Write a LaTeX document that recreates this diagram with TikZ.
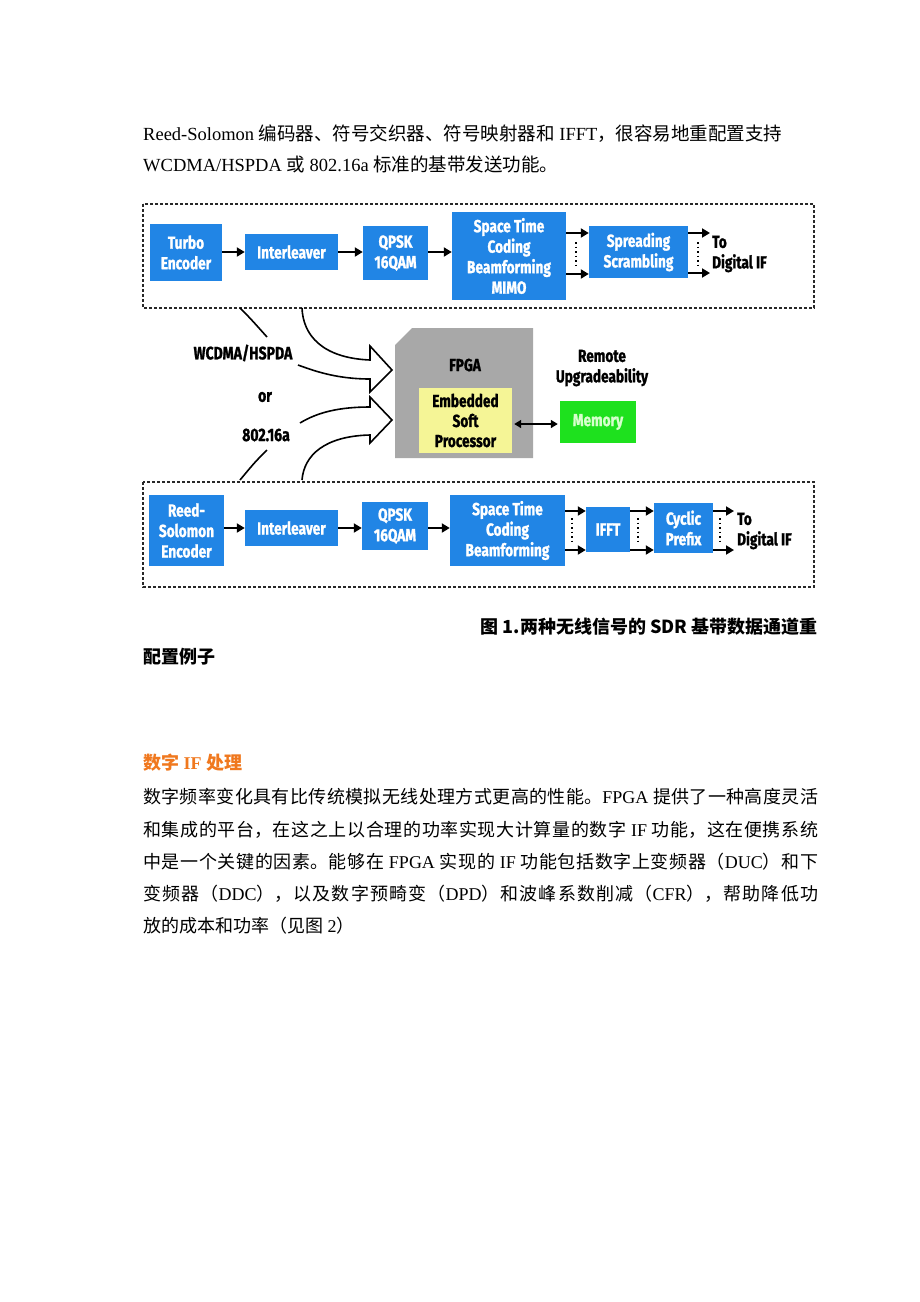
\documentclass[tikz,border=0pt]{standalone}
\usepackage{fontspec}
\setmainfont{Liberation Serif}
\newfontfamily\cjk{Noto Sans CJK SC}
\newfontfamily\dg[FakeStretch=0.78,FakeBold=1.2]{Fira Sans}
\usetikzlibrary{arrows.meta}
\definecolor{bbox}{RGB}{33,133,229}
\definecolor{fpgagray}{RGB}{168,168,168}
\definecolor{procyel}{RGB}{245,245,150}
\definecolor{memgreen}{RGB}{30,225,30}
\definecolor{memtext}{RGB}{215,255,205}
\definecolor{headorange}{RGB}{240,120,30}
\definecolor{boxline}{RGB}{40,40,40}
\newcommand\latn[1]{{\rmfamily #1}}
\XeTeXlinebreaklocale "zh"
\XeTeXlinebreakskip=0pt plus 6pt\relax
\begin{document}
\begin{tikzpicture}[x=1pt,y=-1pt,
  blk/.style={fill=bbox, text=white, font=\dg\bfseries\fontsize{17.5}{20.5}\selectfont, align=center, inner sep=0pt},
  lbl/.style={text=black, font=\dg\bfseries\fontsize{17.5}{20.5}\selectfont, align=center, inner sep=0pt},
  lblb/.style={text=black, font=\dg\bfseries\fontsize{18}{21}\selectfont, align=center, inner sep=0pt},
  arr/.style={line width=1.9pt, -{Triangle[length=8pt,width=9pt]}},
  dotv/.style={line width=1.4pt, dash pattern=on 1.5pt off 3pt},
  dbox/.style={draw=boxline, line width=1.6pt, dash pattern=on 3pt off 2pt},
  hol/.style={draw=black, line width=1.6pt, line join=miter},
  body/.style={anchor=west, inner sep=0pt, font=\cjk\fontsize{18}{18}\selectfont},
]
\path[use as bounding box, fill=white] (0,0) rectangle (920,1302);

% ---------- text above ----------
\node[body, font=\cjk\fontsize{18.5}{18.5}\selectfont] (t1) at (143,134) {\latn{Reed-Solomon }编码器、符号交织器、符号映射器和\latn{ IFFT}，很容易地重配置支持};
\node[body, font=\cjk\fontsize{18.5}{18.5}\selectfont] (t2) at (143,164) {\latn{WCDMA/HSPDA }或\latn{ 802.16a }标准的基带发送功能。};

% ---------- dashed frames ----------
\draw[dbox] (143,204) rectangle (814,308);
\draw[dbox] (143,482) rectangle (814,587);

% ---------- top chain ----------
\node[blk, minimum width=72, minimum height=57] (turbo) at (186,252.5) {Turbo\\Encoder};
\node[blk, minimum width=93, minimum height=36] (inter1) at (291.5,252) {Interleaver};
\node[blk, minimum width=65, minimum height=54] (qpsk1) at (395.5,253) {QPSK\\16QAM};
\node[blk, minimum width=114, minimum height=88] (stc1) at (509,256) {Space Time\\Coding\\Beamforming\\MIMO};
\node[blk, minimum width=99, minimum height=52] (spread) at (638.5,252) {Spreading\\Scrambling};
\node[lbl, align=left, anchor=west] (dif1) at (712,254) {To\\Digital IF};
\coordinate (o1a) at (710,233);
\coordinate (o1b) at (710,273);

\draw[arr] (turbo.east |- 0,252) -- (inter1.west |- 0,252);
\draw[arr] (inter1.east |- 0,252) -- (qpsk1.west |- 0,252);
\draw[arr] (qpsk1.east |- 0,252) -- (stc1.west |- 0,252);
\draw[arr] (stc1.east |- 0,233) -- (spread.west |- 0,233);
\draw[arr] (stc1.east |- 0,274) -- (spread.west |- 0,274);
\draw[arr] (spread.east |- o1a) -- (o1a);
\draw[arr] (spread.east |- o1b) -- (o1b);
\draw[dotv] (576,242) -- (576,267);
\draw[dotv] (698,242) -- (698,266);

% ---------- bottom chain ----------
\node[blk, minimum width=75, minimum height=71] (rs) at (186.5,530.5) {Reed-\\Solomon\\Encoder};
\node[blk, minimum width=93, minimum height=36] (inter2) at (291.5,528) {Interleaver};
\node[blk, minimum width=66, minimum height=48] (qpsk2) at (395,526) {QPSK\\16QAM};
\node[blk, minimum width=115, minimum height=71] (stc2) at (507.5,530.5) {Space Time\\Coding\\Beamforming};
\node[blk, minimum width=44, minimum height=45] (ifft) at (608,529.5) {IFFT};
\node[blk, minimum width=59, minimum height=50] (cyc) at (683.5,528) {Cyclic\\Prefix};
\node[lbl, align=left, anchor=west] (dif2) at (737,531) {To\\Digital IF};
\coordinate (o2a) at (734,511);
\coordinate (o2b) at (734,550);

\draw[arr] (rs.east |- 0,528) -- (inter2.west |- 0,528);
\draw[arr] (inter2.east |- 0,528) -- (qpsk2.west |- 0,528);
\draw[arr] (qpsk2.east |- 0,528) -- (stc2.west |- 0,528);
\draw[arr] (stc2.east |- 0,511) -- (ifft.west |- 0,511);
\draw[arr] (stc2.east |- 0,550) -- (ifft.west |- 0,550);
\draw[arr] (ifft.east |- 0,511) -- (cyc.west |- 0,511);
\draw[arr] (ifft.east |- 0,550) -- (cyc.west |- 0,550);
\draw[arr] (cyc.east |- o2a) -- (o2a);
\draw[arr] (cyc.east |- o2b) -- (o2b);
\draw[dotv] (572,518) -- (572,543);
\draw[dotv] (638,518) -- (638,543);
\draw[dotv] (720,518) -- (720,543);

% ---------- FPGA ----------
\fill[fpgagray] (395,345) -- (412,328) -- (533,328) -- (533,458) -- (395,458) -- cycle;
\node[lbl] (fpga) at (465,365) {FPGA};
\node[fill=procyel, text=black, font=\dg\bfseries\fontsize{17.5}{20}\selectfont, align=center, inner sep=0pt, minimum width=93, minimum height=65] (proc) at (465.5,420.5) {Embedded\\Soft\\Processor};
\node[fill=memgreen, text=memtext, font=\dg\bfseries\fontsize{17.5}{20}\selectfont, inner sep=0pt, minimum width=76, minimum height=42] (mem) at (598,422) {Memory};
\node[lbl] (remote) at (602,368) {Remote\\Upgradeability};
\draw[line width=1.6pt, {Triangle[length=7pt,width=8pt]}-{Triangle[length=7pt,width=8pt]}, shorten <=2pt, shorten >=2pt] (proc.east |- 0,424) -- (mem.west |- 0,424);

% ---------- standards labels ----------
\node[lblb] (wcdma) at (243,353) {WCDMA/HSPDA};
\node[lblb] (or) at (265,397) {or};
\node[lblb] (wimax) at (266,435) {802.16a};

% ---------- hollow arrows ----------
\draw[hol] (240,308) .. controls (250,318) .. (267,337);
\draw[hol] (302,308) .. controls (303,335) and (322,358) .. (370,360) -- (370,346) -- (392,370) -- (370,392) -- (370,379) .. controls (335,379) and (312,370) .. (298,365);
\draw[hol] (300,423) .. controls (318,412) and (340,407) .. (370,407) -- (370,397) -- (392,420) -- (370,443) -- (370,435) .. controls (325,436) and (304,455) .. (302,480);
\draw[hol] (267,450) .. controls (255,462) .. (240,480);

% ---------- caption ----------
\node[anchor=east, inner sep=0pt, font=\cjk\bfseries\fontsize{18}{18}\selectfont] (cap1) at (818,627) {图 1.两种无线信号的 SDR 基带数据通道重};
\node[anchor=west, inner sep=0pt, font=\cjk\bfseries\fontsize{18}{18}\selectfont] (cap2) at (143,657) {配置例子};

% ---------- section ----------
\node[body, text=headorange, font=\cjk\bfseries\fontsize{18}{18}\selectfont] (head) at (143,763) {数字\latn{ \bfseries IF }处理};
\node[body] (p1) at (143,797) {\parbox{675pt}{\parfillskip=0pt 数字频率变化具有比传统模拟无线处理方式更高的性能。\latn{FPGA }提供了一种高度灵活}};
\node[body] (p2) at (143,830) {\parbox{675pt}{\parfillskip=0pt 和集成的平台，在这之上以合理的功率实现大计算量的数字\latn{ IF }功能，这在便携系统}};
\node[body] (p3) at (143,862) {\parbox{675pt}{\parfillskip=0pt 中是一个关键的因素。能够在\latn{ FPGA }实现的\latn{ IF }功能包括数字上变频器（\latn{DUC}）和下}};
\node[body] (p4) at (143,894) {\parbox{675pt}{\parfillskip=0pt 变频器（\latn{DDC}），以及数字预畸变（\latn{DPD}）和波峰系数削减（\latn{CFR}），帮助降低功}};
\node[body] (p5) at (143,926) {放的成本和功率（见图\latn{ 2}）};
\end{tikzpicture}
\end{document}
